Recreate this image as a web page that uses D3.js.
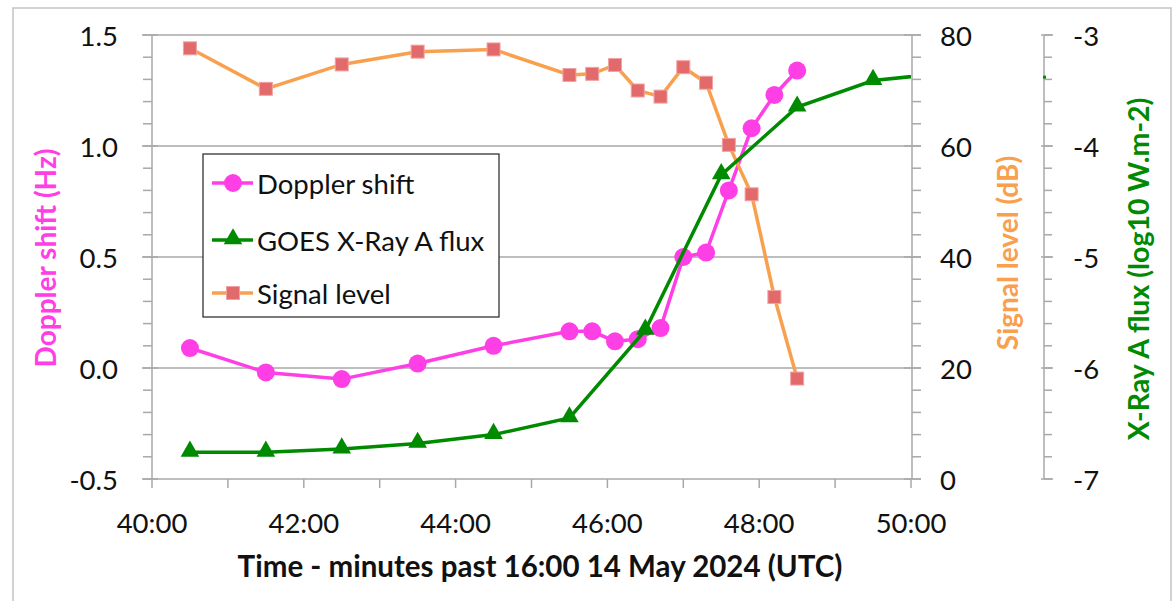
<!DOCTYPE html>
<html><head><meta charset="utf-8">
<script src="https://cdn.jsdelivr.net/npm/d3@7"></script>
<style>
html,body{margin:0;padding:0;background:#fff;}
svg text{font-family:Lato,"Open Sans",sans-serif;}
</style></head>
<body><svg id="c" width="1174" height="601"></svg>
<script>
// ---- data ----
const times   = [40.5, 41.5, 42.5, 43.5, 44.5, 45.5, 45.8, 46.1, 46.4, 46.7, 47.0, 47.3, 47.6, 47.9, 48.2, 48.5];
const doppler = [0.09, -0.02, -0.05, 0.02, 0.10, 0.165, 0.165, 0.12, 0.13, 0.18, 0.50, 0.52, 0.80, 1.08, 1.23, 1.34];
const signal  = [77.6, 70.3, 74.7, 77.0, 77.4, 72.8, 73.0, 74.6, 70.0, 68.9, 74.2, 71.4, 60.2, 51.3, 32.8, 18.1];
const goesTimes = [40.5, 41.5, 42.5, 43.5, 44.5, 45.5, 46.5, 47.5, 48.5, 49.5, 50.5];
const goesFlux  = [-6.76, -6.76, -6.73, -6.68, -6.60, -6.45, -5.66, -4.26, -3.65, -3.41, -3.34];
const xTickLabels = ["40:00", "42:00", "44:00", "46:00", "48:00", "50:00"];
const xTickValues = [40, 42, 44, 46, 48, 50];
const leftTicks = [-0.5, 0.0, 0.5, 1.0, 1.5];
const signalTicks = [0, 20, 40, 60, 80];
const fluxTicks = [-7, -6, -5, -4, -3];
const seriesNames = ["Doppler shift", "GOES X-Ray A flux", "Signal level"];

// ---- layout ----
const L = 152, R = 911, T = 35, B = 479;
const AX2 = 912, AX3 = 1044;
const cMag = "#ff3fe6", cGreen = "#008a00", cOrange = "#f9a04e", cSq = "#e26a6a";
const axisCol = "#a8a8a8";
const FS = 27.5, TFS = 28;

const svg = d3.select("#c");
const x = d3.scaleLinear().domain([40, 50]).range([L, R]);
const yL = d3.scaleLinear().domain([-0.5, 1.5]).range([B, T]);
const yS = d3.scaleLinear().domain([0, 80]).range([B, T]);
const yX = d3.scaleLinear().domain([-7, -3]).range([B, T]);

// outer frame
svg.append("path").attr("d", `M13,601 L13,8 L1171,8 L1171,601`)
  .attr("fill", "none").attr("stroke", "#c4c4c4").attr("stroke-width", 1.5);

// gridlines
svg.append("g").selectAll("line").data(leftTicks.filter(d => d > -0.5)).join("line")
  .attr("x1", L).attr("x2", AX2).attr("y1", d => yL(d)).attr("y2", d => yL(d))
  .attr("stroke", axisCol).attr("stroke-width", 1.5);

// left axis
const gL = svg.append("g");
gL.append("line").attr("x1", L).attr("x2", L).attr("y1", T).attr("y2", B).attr("stroke", axisCol).attr("stroke-width", 1.5);
gL.selectAll(".mn").data(d3.range(-0.5, 1.5001, 0.1)).join("line")
  .attr("x1", L - 9).attr("x2", L).attr("y1", d => yL(d)).attr("y2", d => yL(d))
  .attr("stroke", axisCol).attr("stroke-width", 1.5);
gL.selectAll(".mj").data(leftTicks).join("line")
  .attr("x1", L - 10).attr("x2", L + 6).attr("y1", d => yL(d)).attr("y2", d => yL(d))
  .attr("stroke", axisCol).attr("stroke-width", 1.5);
gL.selectAll("text").data(leftTicks).join("text")
  .attr("x", 118).attr("y", d => yL(d) + 10.5).attr("text-anchor", "end")
  .attr("font-size", FS).attr("fill", "#111").text(d => d3.format(".1f")(d).replace("−", "-"));

// x axis
const gX = svg.append("g");
gX.append("line").attr("x1", L).attr("x2", AX2).attr("y1", B).attr("y2", B).attr("stroke", axisCol).attr("stroke-width", 1.5);
gX.selectAll(".t").data(d3.range(40, 50.01, 1)).join("line")
  .attr("x1", d => x(d)).attr("x2", d => x(d)).attr("y1", B).attr("y2", B + 9)
  .attr("stroke", axisCol).attr("stroke-width", 1.5);
gX.selectAll("text").data(xTickValues).join("text")
  .attr("x", d => x(d)).attr("y", 533).attr("text-anchor", "middle")
  .attr("font-size", FS).attr("fill", "#111").text((d, i) => xTickLabels[i]);
svg.append("text").attr("x", 540).attr("y", 577).attr("text-anchor", "middle")
  .attr("font-size", 29.5).attr("font-weight", "bold").attr("fill", "#111")
  .text("Time - minutes past 16:00 14 May 2024 (UTC)");

// signal axis
const gS = svg.append("g");
gS.append("line").attr("x1", AX2).attr("x2", AX2).attr("y1", T).attr("y2", B).attr("stroke", axisCol).attr("stroke-width", 1.5);
gS.selectAll(".mn").data(d3.range(0, 80.01, 4)).join("line")
  .attr("x1", AX2).attr("x2", AX2 + 9).attr("y1", d => yS(d)).attr("y2", d => yS(d))
  .attr("stroke", axisCol).attr("stroke-width", 1.5);
gS.selectAll(".mj").data(signalTicks).join("line")
  .attr("x1", AX2 - 8).attr("x2", AX2 + 9).attr("y1", d => yS(d)).attr("y2", d => yS(d))
  .attr("stroke", axisCol).attr("stroke-width", 1.5);
gS.selectAll("text").data(signalTicks).join("text")
  .attr("x", 940).attr("y", d => yS(d) + 10.5)
  .attr("font-size", FS).attr("fill", "#111").text(d => d);

// flux axis
const gF = svg.append("g");
gF.append("line").attr("x1", AX3).attr("x2", AX3).attr("y1", T).attr("y2", B).attr("stroke", axisCol).attr("stroke-width", 1.5);
gF.selectAll(".mn").data(d3.range(-7, -2.99, 0.2)).join("line")
  .attr("x1", AX3).attr("x2", AX3 + 8).attr("y1", d => yX(d)).attr("y2", d => yX(d))
  .attr("stroke", axisCol).attr("stroke-width", 1.5);
gF.selectAll(".mj").data(fluxTicks).join("line")
  .attr("x1", AX3 - 3).attr("x2", AX3 + 9).attr("y1", d => yX(d)).attr("y2", d => yX(d))
  .attr("stroke", axisCol).attr("stroke-width", 1.5);
gF.selectAll("text").data(fluxTicks).join("text")
  .attr("x", 1073).attr("y", d => yX(d) + 10.5)
  .attr("font-size", FS).attr("fill", "#111").text(d => String(d).replace("−", "-"));

// axis titles
function vtitle(txt, cx, cy, col, fs) {
  svg.append("text").attr("transform", `translate(${cx},${cy}) rotate(-90)`)
    .attr("text-anchor", "middle").attr("dominant-baseline", "central")
    .attr("font-size", fs).attr("font-weight", "bold").attr("fill", col).text(txt);
}
vtitle("Doppler shift (Hz)", 45, 258, cMag, TFS);
vtitle("Signal level (dB)", 1007, 253, cOrange, TFS);
vtitle("X-Ray A flux (log10 W.m-2)", 1138, 269, cGreen, 28.5);

// clip
svg.append("clipPath").attr("id", "pc").append("rect").attr("x", L).attr("y", T - 20).attr("width", R - L).attr("height", B - T + 40);

const plot = svg.append("g").attr("clip-path", "url(#pc)");
const tri = d3.symbol().type(d3.symbolTriangle).size(150);

// doppler
const dopData = times.map((t, i) => [t, doppler[i]]);
plot.append("path").datum(dopData)
  .attr("d", d3.line().x(d => x(d[0])).y(d => yL(d[1])))
  .attr("fill", "none").attr("stroke", cMag).attr("stroke-width", 3.5);
plot.selectAll(".dc").data(dopData).join("circle")
  .attr("cx", d => x(d[0])).attr("cy", d => yL(d[1])).attr("r", 9).attr("fill", cMag);

// signal
const sigData = times.map((t, i) => [t, signal[i]]);
plot.append("path").datum(sigData)
  .attr("d", d3.line().x(d => x(d[0])).y(d => yS(d[1])))
  .attr("fill", "none").attr("stroke", cOrange).attr("stroke-width", 3.5);
plot.selectAll(".sq").data(sigData).join("rect")
  .attr("x", d => x(d[0]) - 6.5).attr("y", d => yS(d[1]) - 6.5).attr("width", 13).attr("height", 13)
  .attr("fill", cSq).attr("stroke", "#f2a2a2").attr("stroke-width", 1);

// goes
const goesData = goesTimes.map((t, i) => [t, goesFlux[i]]);
plot.append("path").datum(goesData)
  .attr("d", d3.line().x(d => x(d[0])).y(d => yX(d[1])))
  .attr("fill", "none").attr("stroke", cGreen).attr("stroke-width", 3.5);
plot.selectAll(".tr").data(goesData).join("path")
  .attr("transform", d => `translate(${x(d[0])},${yX(d[1]) - 1})`)
  .attr("d", tri).attr("fill", cGreen);
// small stub on flux axis (line continuation)
svg.append("line").attr("x1", AX3 - 1).attr("x2", AX3 + 2)
  .attr("y1", yX(goesFlux[goesFlux.length - 2] + 0.03)).attr("y2", yX(goesFlux[goesFlux.length - 2] + 0.03))
  .attr("stroke", cGreen).attr("stroke-width", 3);

// legend
const lg = svg.append("g");
lg.append("rect").attr("x", 203).attr("y", 154).attr("width", 296).attr("height", 163)
  .attr("fill", "#fff").attr("stroke", "#222").attr("stroke-width", 1.2);
const ly = [183, 240, 293];
seriesNames.forEach((n, i) => {
  const col = [cMag, cGreen, cOrange][i];
  lg.append("line").attr("x1", 212).attr("x2", 253).attr("y1", ly[i]).attr("y2", ly[i])
    .attr("stroke", col).attr("stroke-width", 3.5);
  if (i === 0) lg.append("circle").attr("cx", 233).attr("cy", ly[i]).attr("r", 9).attr("fill", cMag);
  if (i === 1) lg.append("path").attr("transform", `translate(233,${ly[i] - 1})`).attr("d", tri).attr("fill", cGreen);
  if (i === 2) lg.append("rect").attr("x", 226.5).attr("y", ly[i] - 6.5).attr("width", 13).attr("height", 13)
    .attr("fill", cSq).attr("stroke", "#f2a2a2");
  lg.append("text").attr("x", 257).attr("y", ly[i] + 10.5).attr("font-size", FS).attr("fill", "#111").text(n);
});
</script></body></html>
